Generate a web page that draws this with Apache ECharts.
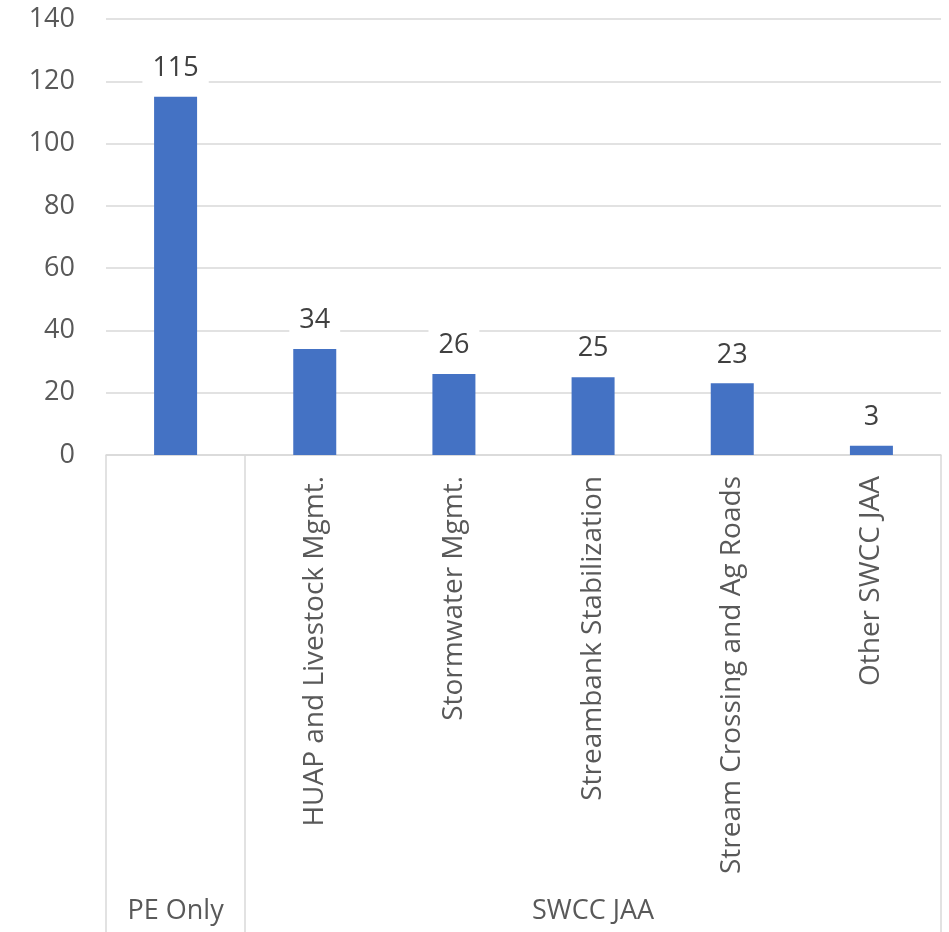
<!DOCTYPE html>
<html>
<head>
<meta charset="utf-8">
<script src="https://cdn.jsdelivr.net/npm/echarts@6/dist/echarts.min.js"></script>
<style>
  html, body { margin: 0; padding: 0; background: #ffffff; }
  #chart { width: 949px; height: 932px; }
</style>
</head>
<body>
<div id="chart"></div>
<script>
// Sub-categories (inner level of the category axis)
const subCategories = ['', 'HUAP and Livestock Mgmt.', 'Stormwater Mgmt.', 'Streambank Stabilization', 'Stream Crossing and Ag Roads', 'Other SWCC JAA'];
// Outer group labels, placed at the centre slot of each group
const groupLabels = ['PE Only', '', '', 'SWCC JAA', '', ''];
// Indices where a group starts (separator lines are drawn there and at the end)
const groupStarts = [0, 1];
// Counts per category
const counts = [115, 34, 26, 25, 23, 3];
// Value axis ticks
const yMin = 0, yMax = 140, yStep = 20;

const FONT = '"Open Sans", "Segoe UI", sans-serif';
const TEXT = '#595959';
const LINE = '#d9d9d9';

const chart = echarts.init(document.getElementById('chart'), null, { renderer: 'canvas' });

chart.setOption({
  animation: false,
  backgroundColor: '#ffffff',
  grid: { left: 106, right: 8, top: 19, bottom: 477, containLabel: false },
  xAxis: [
    {
      type: 'category',
      data: subCategories,
      position: 'bottom',
      axisLine: { show: true, lineStyle: { color: LINE, width: 1.5 } },
      axisTick: { show: false },
      axisLabel: {
        interval: 0,
        rotate: 90,
        margin: 21,
        color: TEXT,
        fontFamily: FONT,
        fontSize: 28
      },
      splitLine: { show: false }
    },
    {
      type: 'category',
      data: groupLabels,
      position: 'bottom',
      offset: 0,
      axisLine: { show: false },
      axisTick: {
        show: true,
        length: 477,
        interval: (index) => groupStarts.indexOf(index) >= 0,
        lineStyle: { color: LINE, width: 1.5 }
      },
      axisLabel: {
        interval: (index, value) => value !== '',
        margin: 443,
        color: TEXT,
        fontFamily: FONT,
        fontSize: 27
      },
      splitLine: { show: false }
    }
  ],
  yAxis: {
    type: 'value',
    min: yMin,
    max: yMax,
    interval: yStep,
    axisLine: { show: false },
    axisTick: { show: false },
    axisLabel: {
      margin: 31,
      color: TEXT,
      fontFamily: FONT,
      fontSize: 27
    },
    splitLine: { show: true, lineStyle: { color: LINE, width: 1.5 } }
  },
  series: [
    {
      type: 'bar',
      xAxisIndex: 0,
      data: counts,
      barWidth: 43,
      itemStyle: { color: '#4472C4' },
      label: {
        show: true,
        position: 'top',
        distance: 13,
        color: '#404040',
        fontFamily: FONT,
        fontSize: 27,
        backgroundColor: '#ffffff',
        padding: [2, 10, 2, 10]
      }
    }
  ]
});
</script>
</body>
</html>
